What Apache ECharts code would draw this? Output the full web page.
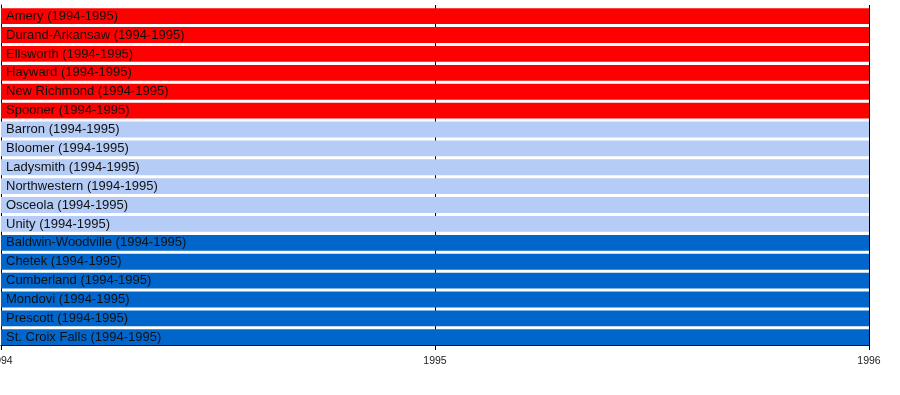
<!DOCTYPE html>
<html><head><meta charset="utf-8">
<script src="https://cdn.jsdelivr.net/npm/echarts@6/dist/echarts.min.js"></script>
<style>html,body{margin:0;padding:0;background:#fff}#c{width:900px;height:395px}</style>
</head><body><div id="c"></div>
<script>
const schools = ["Amery","Durand-Arkansaw","Ellsworth","Hayward","New Richmond","Spooner","Barron","Bloomer","Ladysmith","Northwestern","Osceola","Unity","Baldwin-Woodville","Chetek","Cumberland","Mondovi","Prescott","St. Croix Falls"];
const seasonLabel = ["1994-1995","1994-1995","1994-1995","1994-1995","1994-1995","1994-1995","1994-1995","1994-1995","1994-1995","1994-1995","1994-1995","1994-1995","1994-1995","1994-1995","1994-1995","1994-1995","1994-1995","1994-1995"];
const startYear = [1994,1994,1994,1994,1994,1994,1994,1994,1994,1994,1994,1994,1994,1994,1994,1994,1994,1994];
const endYear = [1996,1996,1996,1996,1996,1996,1996,1996,1996,1996,1996,1996,1996,1996,1996,1996,1996,1996];
const group = [0,0,0,0,0,0,1,1,1,1,1,1,2,2,2,2,2,2];
const groupColors = ["#ff0000","#b5cdf6","#0066cc"];
const xTicks = [1994,1995,1996];

const data = schools.map((s,i)=>({value:[i,startYear[i],endYear[i]],name:s+" ("+seasonLabel[i]+")",itemStyle:{color:groupColors[group[i]]}}));

const chart = echarts.init(document.getElementById('c'));
chart.setOption({
  animation:false,
  grid:{left:1,right:31,top:5,bottom:50,containLabel:false,outerBoundsMode:'none'},
  xAxis:{type:'value',min:xTicks[0],max:xTicks[xTicks.length-1],interval:1,
    axisLine:{show:true,lineStyle:{color:'#000',width:1}},
    axisTick:{show:true,length:5,lineStyle:{color:'#000'}},
    axisLabel:{formatter:v=>String(v),color:'#222',fontSize:10.5,fontFamily:'Liberation Sans, Arial',margin:11,showMinLabel:true,showMaxLabel:true,hideOverlap:false},
    splitLine:{show:true,lineStyle:{color:'#000',width:1}}},
  yAxis:{type:'category',data:schools,inverse:true,
    axisLine:{show:true,lineStyle:{color:'#000'}},axisTick:{show:false},axisLabel:{show:false},splitLine:{show:false}},
  series:[{type:'custom',
    renderItem:function(params,api){
      const cat=api.value(0);
      const p0=api.coord([api.value(1),cat]);
      const p1=api.coord([api.value(2),cat]);
      const band=api.size([0,1])[1];
      const top=p0[1]-band/2+band*0.17;
      const h=band*0.84;
      const idx=params.dataIndex;
      return {type:'group',children:[
        {type:'rect',shape:{x:p0[0],y:top,width:p1[0]-p0[0],height:h},style:{fill:groupColors[group[idx]]}},
        {type:'text',style:{text:schools[idx]+" ("+seasonLabel[idx]+")",x:p0[0]+5,y:top+h/2,verticalAlign:'middle',align:'left',
          fill:'#111',font:'13px "Liberation Sans", Arial, sans-serif'}}
      ]};
    },
    encode:{x:[1,2],y:0},
    data:data}]
});
</script></body></html>
